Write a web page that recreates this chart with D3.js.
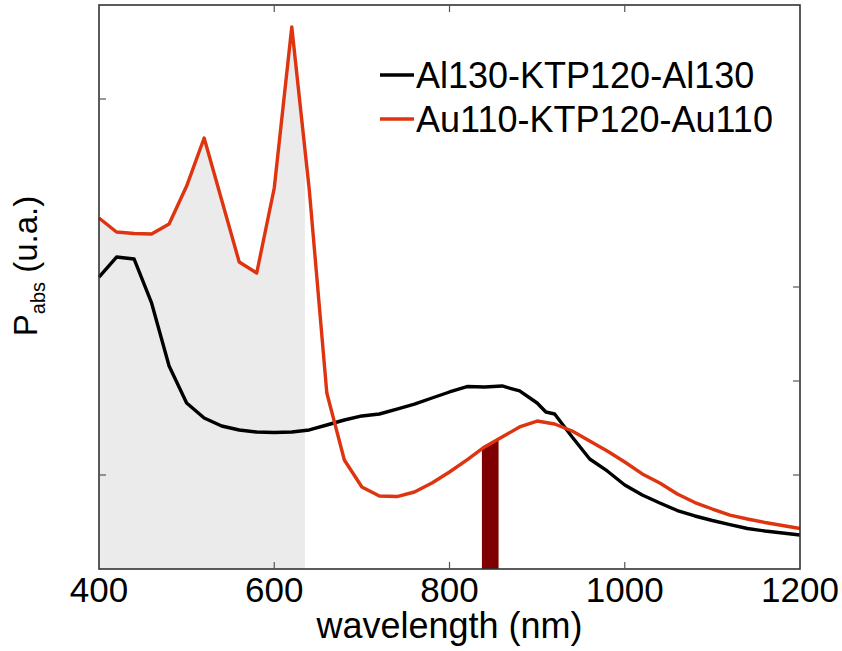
<!DOCTYPE html>
<html>
<head>
<meta charset="utf-8">
<script src="https://cdn.jsdelivr.net/npm/d3@7"></script>
<style>
  body { margin: 0; background: #fff; }
  text { font-family: Arial, "Liberation Sans", sans-serif; fill: #000; }
</style>
</head>
<body>
<svg id="chart" width="842" height="651"></svg>
<script>
const width = 842;
const height = 651;
const margin = {top: 5, right: 42, bottom: 82, left: 99};

// Al130-KTP120-Al130 (black)
const alWavelength = [400, 420, 440, 460, 480, 500, 520, 540, 560, 580, 600, 620, 640, 660, 680, 700,
  720, 740, 760, 780, 800, 820, 840, 860, 880, 900, 910, 920, 940, 960, 980, 1000, 1020, 1040,
  1060, 1080, 1100, 1120, 1140, 1160, 1180, 1200];
const alValues = [3.106, 3.319, 3.298, 2.83, 2.16, 1.766, 1.606, 1.521, 1.479, 1.457, 1.452, 1.457,
  1.479, 1.532, 1.585, 1.628, 1.649, 1.702, 1.755, 1.819, 1.883, 1.941, 1.936, 1.947, 1.894, 1.766,
  1.67, 1.649, 1.404, 1.17, 1.043, 0.894, 0.787, 0.702, 0.622, 0.564, 0.516, 0.473, 0.431, 0.404,
  0.383, 0.362];

// Au110-KTP120-Au110 (red)
const auWavelength = [400, 420, 440, 460, 480, 500, 520, 540, 560, 580, 600, 620, 640, 660, 680, 700,
  720, 740, 760, 780, 800, 820, 840, 860, 880, 900, 920, 940, 960, 980, 1000, 1020, 1040, 1060,
  1080, 1100, 1120, 1140, 1160, 1180, 1200];
const auValues = [3.734, 3.585, 3.569, 3.564, 3.67, 4.074, 4.585, 3.926, 3.266, 3.149, 4.053, 5.766,
  4.032, 1.872, 1.16, 0.872, 0.777, 0.771, 0.819, 0.915, 1.032, 1.16, 1.298, 1.404, 1.511, 1.574,
  1.543, 1.468, 1.362, 1.255, 1.138, 1.011, 0.915, 0.798, 0.707, 0.638, 0.574, 0.532, 0.495, 0.463,
  0.431];

const seriesNames = ["Al130-KTP120-Al130", "Au110-KTP120-Au110"];
const seriesColors = ["#000000", "#de3410"];

const xTicks = [400, 600, 800, 1000, 1200];
const leftYTicks = [1, 5];
const rightYTicks = [1, 2, 3];
const shadeRange = [400, 635];  // gray band under the Au curve
const barRange = [837, 856];    // dark red marker

const svg = d3.select('#chart');

const x = d3.scaleLinear()
  .domain([400, 1200])
  .range([margin.left, width - margin.right]);

const y = d3.scaleLinear()
  .domain([0, 6])
  .range([height - margin.bottom, margin.top]);

function toPoints(ws, vs) {
  return ws.map((w, i) => ({w: w, v: vs[i]}));
}

// linear read-off of a series at wavelength w
function valueAt(points, w) {
  const i = d3.bisector(d => d.w).left(points, w);
  if (points[i].w === w) return points[i].v;
  const a = points[i - 1], b = points[i];
  return a.v + (b.v - a.v) * (w - a.w) / (b.w - a.w);
}

function clipRange(points, range) {
  const inner = points.filter(d => d.w > range[0] && d.w < range[1]);
  return [{w: range[0], v: valueAt(points, range[0])}]
    .concat(inner)
    .concat([{w: range[1], v: valueAt(points, range[1])}]);
}

const al = toPoints(alWavelength, alValues);
const au = toPoints(auWavelength, auValues);

const area = d3.area()
  .x(d => x(d.w))
  .y0(y(0))
  .y1(d => y(d.v));

const line = d3.line()
  .x(d => x(d.w))
  .y(d => y(d.v));

// shaded region
svg.append('path')
  .datum(clipRange(au, shadeRange))
  .attr('d', area)
  .attr('fill', '#ebebeb');

// dark red bar
svg.append('path')
  .datum(clipRange(au, barRange))
  .attr('d', area)
  .attr('fill', '#7f0000');

// curves
[al, au].forEach((pts, i) => {
  svg.append('path')
    .datum(pts)
    .attr('d', line)
    .attr('fill', 'none')
    .attr('stroke', seriesColors[i])
    .attr('stroke-width', 3.4)
    .attr('stroke-linejoin', 'round');
});

// frame
const x0 = x.range()[0], x1 = x.range()[1];
const yb = y.range()[0], yt = y.range()[1];
svg.append('rect')
  .attr('x', x0)
  .attr('y', yt)
  .attr('width', x1 - x0)
  .attr('height', yb - yt)
  .attr('fill', 'none')
  .attr('stroke', '#333')
  .attr('stroke-width', 1.6);

const tickLen = 7;
const ticks = svg.append('g').attr('stroke', '#555').attr('stroke-width', 1.2);
xTicks.slice(1, -1).forEach(t => {
  ticks.append('line').attr('x1', x(t)).attr('x2', x(t)).attr('y1', yb).attr('y2', yb - tickLen);
  ticks.append('line').attr('x1', x(t)).attr('x2', x(t)).attr('y1', yt).attr('y2', yt + tickLen);
});
leftYTicks.forEach(t => {
  ticks.append('line').attr('x1', x0).attr('x2', x0 + tickLen).attr('y1', y(t)).attr('y2', y(t));
});
rightYTicks.forEach(t => {
  ticks.append('line').attr('x1', x1).attr('x2', x1 - tickLen).attr('y1', y(t)).attr('y2', y(t));
});

// x tick labels
svg.append('g')
  .selectAll('text')
  .data(xTicks)
  .join('text')
  .attr('x', d => x(d))
  .attr('y', 602)
  .attr('text-anchor', 'middle')
  .attr('font-size', 35)
  .text(d => d);

svg.append('text')
  .attr('x', (x0 + x1) / 2)
  .attr('y', 638)
  .attr('text-anchor', 'middle')
  .attr('font-size', 36)
  .text('wavelength (nm)');

// y label
const ylab = svg.append('text')
  .attr('transform', 'translate(37,266) rotate(-90)')
  .attr('text-anchor', 'middle')
  .attr('font-size', 33);
ylab.append('tspan').text('P');
ylab.append('tspan').attr('font-size', 20).attr('dy', 8).text('abs');
ylab.append('tspan').attr('dy', -8).text(' (u.a.)');

// legend
const legend = svg.append('g');
seriesNames.forEach((name, i) => {
  const ly = 75 + i * 44;
  legend.append('line')
    .attr('x1', 380).attr('x2', 414)
    .attr('y1', ly).attr('y2', ly)
    .attr('stroke', seriesColors[i])
    .attr('stroke-width', 3.5);
  legend.append('text')
    .attr('x', 416)
    .attr('y', ly + 13)
    .attr('font-size', 36)
    .text(name);
});
</script>
</body>
</html>
